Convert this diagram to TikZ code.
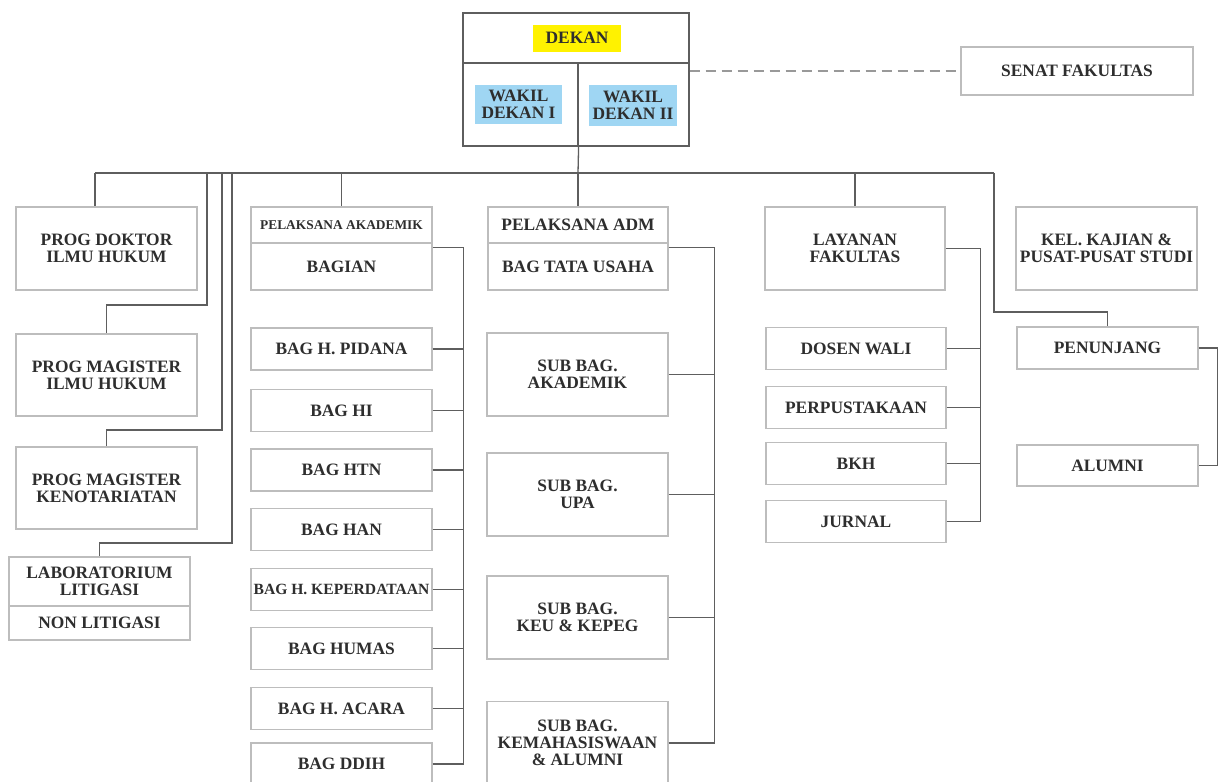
\documentclass[tikz,border=0pt]{standalone}
\usepackage{fontspec}
\setmainfont{Liberation Serif}
\newfontfamily\orgfont{Liberation Serif}[BoldFont={Liberation Serif Bold}]
\definecolor{boxgray}{HTML}{BDBDBD}
\definecolor{linegray}{HTML}{5E5E5E}
\definecolor{textgray}{HTML}{2E2E2E}
\definecolor{dekanyellow}{HTML}{FFF200}
\definecolor{wakilblue}{HTML}{9FD6F3}
\tikzset{
	unit/.style = {draw=boxgray, line width=0.6pt, align=center, inner sep=0pt,
		text=textgray, font=\orgfont\bfseries\fontsize{8.7}{8.6}\selectfont},
	bigunit/.style = {unit, minimum width=90.5pt, minimum height=41.5pt},
	smallunit/.style = {unit, minimum width=90.5pt, minimum height=21pt},
	conn/.style = {draw=linegray, line width=0.65pt},
	mark box/.style = {align=center, inner sep=0pt, text=textgray,
		font=\orgfont\bfseries\fontsize{8.7}{8.6}\selectfont}
}

\begin{document}
\begin{tikzpicture}[x=0.5pt, y=-0.5pt]
	\fill[white] (0,0) rectangle (1222,782);
	\useasboundingbox (0,0) rectangle (1222,782);

	% pimpinan
	\node[unit, draw=linegray, minimum width=113pt, minimum height=25pt] (dekancell) at (576,38) {};
	\node[unit, draw=linegray, minimum width=57.5pt, minimum height=41.5pt] (wd1cell) at (520.5,104.5) {};
	\node[unit, draw=linegray, minimum width=55.5pt, minimum height=41.5pt] (wd2cell) at (633.5,104.5) {};
	\node[mark box, fill=dekanyellow, minimum width=44pt, minimum height=13.5pt] (dekan) at (577,38) {DEKAN};
	\node[mark box, fill=wakilblue, minimum width=43.5pt, minimum height=19.5pt] (wd1) at (518.5,104.5) {WAKIL\\DEKAN I};
	\node[mark box, fill=wakilblue, minimum width=44pt, minimum height=20.5pt] (wd2) at (633,105.5) {WAKIL\\DEKAN II};
	\node[unit, minimum width=116pt, minimum height=24pt] (senat) at (1077,71) {SENAT FAKULTAS};

	% program & laboratorium
	\node[bigunit] (doktor) at (106.5,248.5) {PROG DOKTOR\\ILMU HUKUM};
	\node[bigunit, minimum height=41pt] (magih) at (106.5,375) {PROG MAGISTER\\ILMU HUKUM};
	\node[bigunit, minimum height=41pt] (magkn) at (106.5,488) {PROG MAGISTER\\KENOTARIATAN};
	\node[unit, minimum width=90.5pt, minimum height=24.5pt] (labtop) at (99.5,581.5) {LABORATORIUM\\LITIGASI};
	\node[unit, minimum width=90.5pt, minimum height=17pt] (labbot) at (99.5,623) {NON LITIGASI};

	% pelaksana akademik
	\node[unit, minimum width=90.5pt, minimum height=18pt, font=\orgfont\bfseries\fontsize{6.7}{7}\selectfont] (pakad) at (341.5,225) {PELAKSANA AKADEMIK};
	\node[unit, minimum width=90.5pt, minimum height=23.5pt] (bagian) at (341.5,266.5) {BAGIAN};
	\node[smallunit] (pidana) at (341.5,349) {BAG H. PIDANA};
	\node[smallunit] (hi) at (341.5,410.5) {BAG HI};
	\node[smallunit] (htn) at (341.5,470) {BAG HTN};
	\node[smallunit] (han) at (341.5,529.5) {BAG HAN};
	\node[smallunit, font=\orgfont\bfseries\fontsize{7.8}{8}\selectfont] (perdata) at (341.5,589.5) {BAG H. KEPERDATAAN};
	\node[smallunit] (humas) at (341.5,648.5) {BAG HUMAS};
	\node[smallunit] (acara) at (341.5,708.5) {BAG H. ACARA};
	\node[smallunit] (ddih) at (341.5,764) {BAG DDIH};

	% pelaksana administrasi
	\node[unit, minimum width=90pt, minimum height=18pt] (padm) at (578,225) {PELAKSANA ADM};
	\node[unit, minimum width=90pt, minimum height=23.5pt] (tu) at (578,266.5) {BAG TATA USAHA};
	\node[bigunit] (akad) at (577.5,374.5) {SUB BAG.\\AKADEMIK};
	\node[bigunit] (upa) at (577.5,494.5) {SUB BAG.\\UPA};
	\node[bigunit] (keu) at (577.5,617.5) {SUB BAG.\\KEU \& KEPEG};
	\node[bigunit] (mhs) at (577.5,743) {SUB BAG.\\KEMAHASISWAAN\\\& ALUMNI};

	% layanan
	\node[bigunit, minimum width=90pt] (layanan) at (855,248.5) {LAYANAN\\FAKULTAS};
	\node[smallunit, minimum width=90pt] (dosen) at (856,348.5) {DOSEN WALI};
	\node[smallunit, minimum width=90pt] (perpus) at (856,407.5) {PERPUSTAKAAN};
	\node[smallunit, minimum width=90pt] (bkh) at (856,463.5) {BKH};
	\node[smallunit, minimum width=90pt] (jurnal) at (856,521.5) {JURNAL};

	% kajian & penunjang
	\node[bigunit] (kajian) at (1106.5,248.5) {KEL. KAJIAN \&\\PUSAT-PUSAT STUDI};
	\node[smallunit] (penunjang) at (1107.5,348) {PENUNJANG};
	\node[smallunit, minimum height=20.5pt] (alumni) at (1107.5,465.5) {ALUMNI};

	% garis komando
	\coordinate (bus) at (578,173);
	\coordinate (busL) at (95,173);
	\coordinate (busR) at (994,173);
	\coordinate (j1) at (207,173);
	\coordinate (j2) at (222,173);
	\coordinate (j3) at (232,173);
	\coordinate (k1) at (207,305);
	\coordinate (k2) at (222,430);
	\coordinate (k3) at (232,543);
	\coordinate (k4) at (994,312);
	\draw[conn] (wd1cell.south east) -- (bus);
	\draw[conn] (busL) -- (busR);
	\draw[conn] (busL) -- (busL |- doktor.north);
	\draw[conn] (j1) -- (k1) -| (magih.north);
	\draw[conn] (j2) -- (k2) -| (magkn.north);
	\draw[conn] (j3) -- (k3) -| (labtop.north);
	\draw[conn] (pakad.north |- bus) -- (pakad.north);
	\draw[conn] (bus) -- (padm.north);
	\draw[conn] (layanan.north |- bus) -- (layanan.north);
	\draw[conn] (busR) -- (k4) -| (penunjang.north);
	% garis koordinasi
	\draw[draw=gray!80, line width=1pt, dash pattern=on 5pt off 3pt] (senat.west -| wd2cell.east) -- (senat.west);

	% bagian
	\coordinate (bbus) at ([xshift=15.5pt, yshift=-2.5pt]bagian.north east);
	\draw[conn] ([yshift=-2.5pt]bagian.north east) -- (bbus) -- (bbus |- ddih.east);
	\draw[conn] (pidana.east) -- (pidana.east -| bbus);
	\draw[conn] (hi.east) -- (hi.east -| bbus);
	\draw[conn] (htn.east) -- (htn.east -| bbus);
	\draw[conn] (han.east) -- (han.east -| bbus);
	\draw[conn] (perdata.east) -- (perdata.east -| bbus);
	\draw[conn] (humas.east) -- (humas.east -| bbus);
	\draw[conn] (acara.east) -- (acara.east -| bbus);
	\draw[conn] (ddih.east) -- (ddih.east -| bbus);

	% sub bagian
	\coordinate (abus) at ([xshift=23pt, yshift=-2.5pt]tu.north east);
	\draw[conn] ([yshift=-2.5pt]tu.north east) -- (abus) -- (abus |- mhs.east);
	\draw[conn] (akad.east) -- (akad.east -| abus);
	\draw[conn] (upa.east) -- (upa.east -| abus);
	\draw[conn] (keu.east) -- (keu.east -| abus);
	\draw[conn] (mhs.east) -- (mhs.east -| abus);

	% layanan
	\coordinate (lbus) at ([xshift=17.5pt]layanan.east);
	\draw[conn] (layanan.east) -- (lbus) -- (lbus |- jurnal.east);
	\draw[conn] (dosen.east) -- (dosen.east -| lbus);
	\draw[conn] (perpus.east) -- (perpus.east -| lbus);
	\draw[conn] (bkh.east) -- (bkh.east -| lbus);
	\draw[conn] (jurnal.east) -- (jurnal.east -| lbus);

	% penunjang
	\draw[conn] (penunjang.east) -| ([xshift=9.5pt]alumni.east) -- (alumni.east);
\end{tikzpicture}
\end{document}
